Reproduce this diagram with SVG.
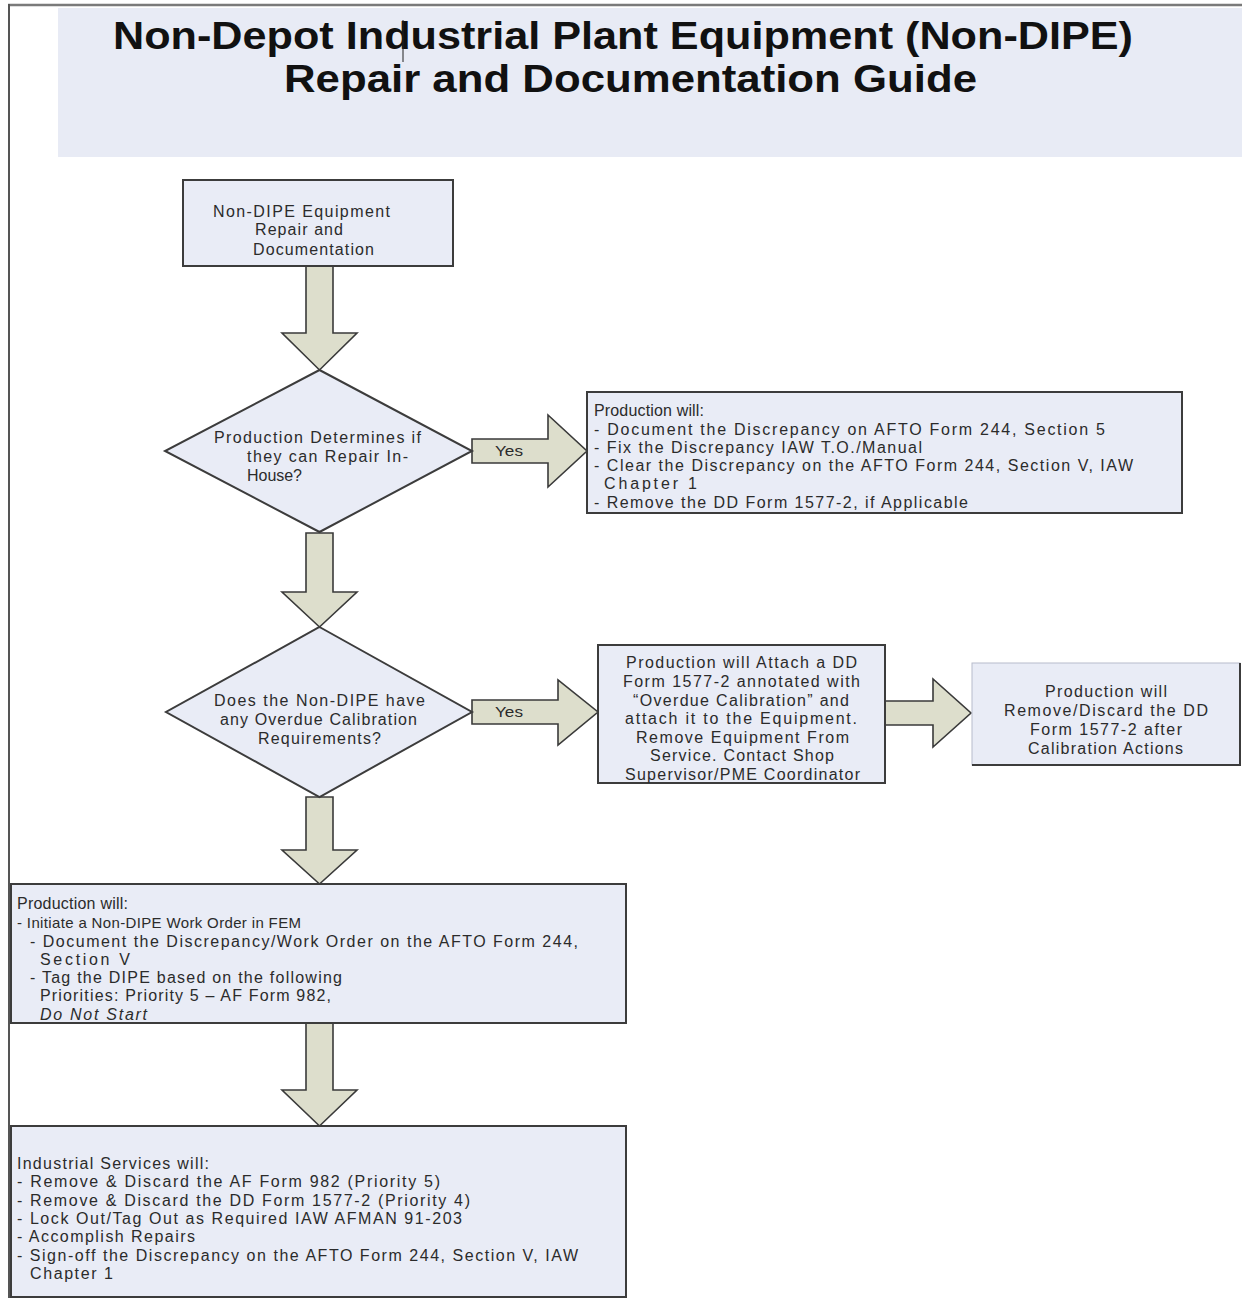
<svg xmlns="http://www.w3.org/2000/svg" width="1242" height="1298" viewBox="0 0 1242 1298">
  <style>
    .box { fill: #e9ecf6; stroke: #3c3c3c; stroke-width: 2; }
    .arrow { fill: #dddecc; stroke: #3a3a3a; stroke-width: 1.6; stroke-linejoin: miter; }
    .t { font-family: "Liberation Sans", Arial, sans-serif; font-size: 16px; fill: #2b2b2b; }
    .sm { font-size: 15px; }
    .it { font-style: italic; }
    .title { font-family: "Liberation Sans", Arial, sans-serif; font-size: 38px; font-weight: bold; fill: #111; }
  </style>

  <rect x="0" y="0" width="1242" height="1298" fill="#ffffff"/>

  <!-- page frame -->
  <g id="frame">
    <line x1="8" y1="5" x2="1242" y2="5" stroke="#7a7a7a" stroke-width="2.5"/>
    <line x1="9" y1="4" x2="9" y2="1298" stroke="#555" stroke-width="2"/>
  </g>

  <!-- title banner -->
  <g id="title">
    <rect x="58" y="8" width="1184" height="149" fill="#e8ebf5"/>
    <text class="title" x="113" y="49" textLength="1020" lengthAdjust="spacingAndGlyphs">Non-Depot Industrial Plant Equipment (Non-DIPE)</text>
    <text class="title" x="284" y="92" textLength="693" lengthAdjust="spacingAndGlyphs">Repair and Documentation Guide</text>
    <line x1="403" y1="20" x2="403" y2="62" stroke="#222" stroke-width="1"/>
  </g>

  <!-- connectors -->
  <g id="connectors">
    <polygon class="arrow" points="306,266 333,266 333,333 357,333 319.5,370 282,333 306,333"/>
    <polygon class="arrow" points="306,533 333,533 333,592 357,592 319.5,627 282,592 306,592"/>
    <polygon class="arrow" points="306,797 333,797 333,850 357,850 319.5,884 282,850 306,850"/>
    <polygon class="arrow" points="306,1023 333,1023 333,1090 357,1090 319.5,1126 282,1090 306,1090"/>
    <polygon class="arrow" points="472,439 548,439 548,415 587,451 548,487 548,463 472,463"/>
    <text class="t sm" x="495" y="456" textLength="28" lengthAdjust="spacingAndGlyphs">Yes</text>
    <polygon class="arrow" points="472,700 558,700 558,680 598,712 558,745 558,724 472,724"/>
    <text class="t sm" x="495" y="717" textLength="28" lengthAdjust="spacingAndGlyphs">Yes</text>
    <polygon class="arrow" points="885,701 933,701 933,679 971,713 933,747 933,725 885,725"/>
  </g>

  <!-- start -->
  <g id="start">
    <rect class="box" x="183" y="180" width="270" height="86"/>
    <text class="t" x="213" y="217" textLength="177" lengthAdjust="spacing">Non-DIPE Equipment</text>
    <text class="t" x="255" y="235" textLength="88" lengthAdjust="spacing">Repair and</text>
    <text class="t" x="253" y="255" textLength="121" lengthAdjust="spacing">Documentation</text>
  </g>

  <!-- decision: repair in-house -->
  <g id="decision-repair">
    <polygon class="box" points="319.5,370 472,451 319.5,532 165,451"/>
    <text class="t" x="214" y="443" textLength="207" lengthAdjust="spacing">Production Determines if</text>
    <text class="t" x="247" y="462" textLength="161" lengthAdjust="spacing">they can Repair In-</text>
    <text class="t" x="247" y="481" textLength="55" lengthAdjust="spacing">House?</text>
  </g>

  <!-- in-house repair actions -->
  <g id="inhouse-actions">
    <rect class="box" x="587" y="392" width="595" height="121"/>
    <text class="t" x="594" y="416" textLength="110" lengthAdjust="spacing">Production will:</text>
    <text class="t" x="594" y="435" textLength="511" lengthAdjust="spacing">- Document the Discrepancy on AFTO Form 244, Section 5</text>
    <text class="t" x="594" y="453" textLength="328" lengthAdjust="spacing">- Fix the Discrepancy IAW T.O./Manual</text>
    <text class="t" x="594" y="471" textLength="539" lengthAdjust="spacing">- Clear the Discrepancy on the AFTO Form 244, Section V, IAW</text>
    <text class="t" x="604" y="489" textLength="93" lengthAdjust="spacing">Chapter 1</text>
    <text class="t" x="594" y="508" textLength="374" lengthAdjust="spacing">- Remove the DD Form 1577-2, if Applicable</text>
  </g>

  <!-- decision: overdue calibration -->
  <g id="decision-calibration">
    <polygon class="box" points="319.5,627 472,712 319.5,797 166,712"/>
    <text class="t" x="214" y="706" textLength="211" lengthAdjust="spacing">Does the Non-DIPE have</text>
    <text class="t" x="220" y="725" textLength="197" lengthAdjust="spacing">any Overdue Calibration</text>
    <text class="t" x="258" y="744" textLength="123" lengthAdjust="spacing">Requirements?</text>
  </g>

  <!-- overdue calibration tagging -->
  <g id="calibration-tag">
    <rect class="box" x="598" y="645" width="287" height="138"/>
    <text class="t" x="626" y="668" textLength="231" lengthAdjust="spacing">Production will Attach a DD</text>
    <text class="t" x="623" y="687" textLength="237" lengthAdjust="spacing">Form 1577-2 annotated with</text>
    <text class="t" x="633" y="706" textLength="216" lengthAdjust="spacing">“Overdue Calibration” and</text>
    <text class="t" x="625" y="724" textLength="232" lengthAdjust="spacing">attach it to the Equipment.</text>
    <text class="t" x="636" y="743" textLength="213" lengthAdjust="spacing">Remove Equipment From</text>
    <text class="t" x="650" y="761" textLength="184" lengthAdjust="spacing">Service. Contact Shop</text>
    <text class="t" x="625" y="780" textLength="235" lengthAdjust="spacing">Supervisor/PME Coordinator</text>
  </g>

  <!-- tag removal after calibration -->
  <g id="calibration-remove">
    <rect x="972" y="663" width="268" height="102" fill="#e9ecf6" stroke="#b8bccb" stroke-width="1"/>
    <polyline points="972,765 1240,765 1240,663" fill="none" stroke="#3c3c3c" stroke-width="2"/>
    <text class="t" x="1045" y="697" textLength="122" lengthAdjust="spacing">Production will</text>
    <text class="t" x="1004" y="716" textLength="204" lengthAdjust="spacing">Remove/Discard the DD</text>
    <text class="t" x="1030" y="735" textLength="152" lengthAdjust="spacing">Form 1577-2 after</text>
    <text class="t" x="1028" y="754" textLength="155" lengthAdjust="spacing">Calibration Actions</text>
  </g>

  <!-- work order -->
  <g id="work-order">
    <rect class="box" x="11" y="884" width="615" height="139"/>
    <text class="t" x="17" y="909" textLength="111" lengthAdjust="spacing">Production will:</text>
    <text class="t sm" x="17" y="928" textLength="284" lengthAdjust="spacing">- Initiate a Non-DIPE Work Order in FEM</text>
    <text class="t" x="30" y="947" textLength="548" lengthAdjust="spacing">- Document the Discrepancy/Work Order on the AFTO Form 244,</text>
    <text class="t" x="40" y="965" textLength="90" lengthAdjust="spacing">Section V</text>
    <text class="t" x="30" y="983" textLength="312" lengthAdjust="spacing">- Tag the DIPE based on the following</text>
    <text class="t" x="40" y="1001" textLength="291" lengthAdjust="spacing">Priorities: Priority 5 – AF Form 982,</text>
    <text class="t it" x="40" y="1020" textLength="107" lengthAdjust="spacing">Do Not Start</text>
  </g>

  <!-- industrial services -->
  <g id="industrial-services">
    <rect class="box" x="11" y="1126" width="615" height="171"/>
    <text class="t" x="17" y="1169" textLength="192" lengthAdjust="spacing">Industrial Services will:</text>
    <text class="t" x="17" y="1187" textLength="423" lengthAdjust="spacing">- Remove &amp; Discard the AF Form 982 (Priority 5)</text>
    <text class="t" x="17" y="1206" textLength="453" lengthAdjust="spacing">- Remove &amp; Discard the DD Form 1577-2 (Priority 4)</text>
    <text class="t" x="17" y="1224" textLength="445" lengthAdjust="spacing">- Lock Out/Tag Out as Required IAW AFMAN 91-203</text>
    <text class="t" x="17" y="1242" textLength="178" lengthAdjust="spacing">- Accomplish Repairs</text>
    <text class="t" x="17" y="1261" textLength="561" lengthAdjust="spacing">- Sign-off the Discrepancy on the AFTO Form 244, Section V, IAW</text>
    <text class="t" x="30" y="1279" textLength="83" lengthAdjust="spacing">Chapter 1</text>
  </g>
</svg>
